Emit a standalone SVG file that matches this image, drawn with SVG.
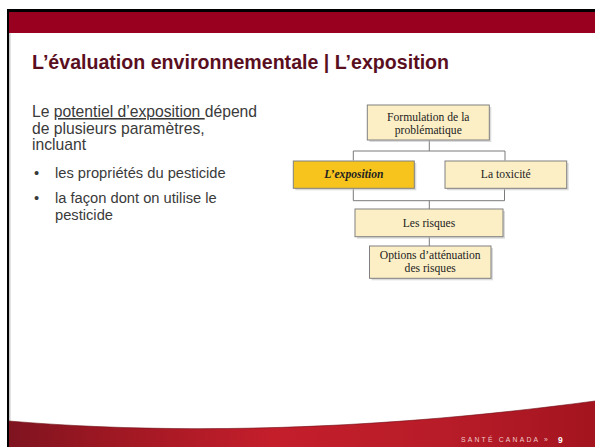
<svg xmlns="http://www.w3.org/2000/svg" width="595" height="447" viewBox="0 0 595 447">
<defs>
<style>
.body{font-family:"Liberation Sans",Arial,sans-serif;fill:#3a3a3a}
.box{fill:#fcefc6;stroke:#808080;stroke-width:1}
.gold{fill:#f6c41c;stroke:#808080;stroke-width:1}
.shadow{fill:#bdbdbd;opacity:0.55}
.lbl{font-family:"Liberation Serif","Times New Roman",serif;font-size:11.6px;fill:#222;text-anchor:middle}
.conn{fill:none;stroke:#7a7a7a;stroke-width:1}
</style>
<linearGradient id="footer" x1="0" y1="0" x2="1" y2="0">
<stop offset="0" stop-color="#7e1420"/>
<stop offset="0.15" stop-color="#9a1722"/>
<stop offset="0.45" stop-color="#c41e2b"/>
<stop offset="0.75" stop-color="#b71c28"/>
<stop offset="1" stop-color="#a3141f"/>
</linearGradient>
</defs>
<rect x="0" y="0" width="595" height="447" fill="#ffffff"/>
<!-- frame -->
<rect x="7" y="9" width="588" height="3" fill="#000"/>
<rect x="9" y="12" width="586" height="21" fill="#990020"/>
<rect x="7" y="9" width="2" height="438" fill="#000"/>
<rect x="9" y="33" width="1.5" height="390" fill="#c8c8c8"/>
<!-- footer -->
<path d="M9,421 C150,433 350,434 595,401 L595,447 L9,447 Z" fill="url(#footer)"/>
<path d="M9,421 C150,433 350,434 595,401" fill="none" stroke="#6e1018" stroke-width="1" opacity="0.6"/>
<text x="461" y="442" font-family="'Liberation Sans',Arial,sans-serif" font-size="6.8" letter-spacing="2.2" fill="#f2c9cb">SANTÉ CANADA »</text>
<text x="558" y="442.5" font-family="'Liberation Sans',Arial,sans-serif" font-size="8.5" font-weight="bold" fill="#ffffff">9</text>
<!-- title -->
<text x="32" y="69" font-family="'Liberation Sans',Arial,sans-serif" font-size="19.6" font-weight="bold" fill="#5a0f1f">L’évaluation environnementale | L’exposition</text>
<!-- body text -->
<g id="bodytext" class="body">
<text x="32" y="117" font-size="15.7">Le <tspan text-decoration="underline">potentiel d’exposition </tspan>dépend</text>
<text x="32" y="133.5" font-size="15.7">de plusieurs paramètres,</text>
<text x="32" y="150" font-size="15.7">incluant</text>
<text x="34" y="178" font-size="14.7">•</text>
<text x="55" y="178" font-size="14.7">les propriétés du pesticide</text>
<text x="34" y="203" font-size="14.7">•</text>
<text x="55" y="203" font-size="14.7">la façon dont on utilise le</text>
<text x="55" y="219.5" font-size="14.7">pesticide</text>
</g>
<!-- connectors -->
<g id="connectors" class="conn">
<path d="M429.3,140 V151 M353.3,160.5 V151 H505 V160.5"/>
<path d="M353.3,188.3 V200.7 H504.5 V188.3 M429.3,200.7 V209"/>
<path d="M429.3,236.7 V246"/>
</g>
<!-- nodes -->
<g id="node-formulation">
<rect class="shadow" x="369.3" y="107" width="122" height="35"/>
<rect class="box" x="367.3" y="105" width="122" height="35"/>
<text class="lbl" x="428.3" y="120.5">Formulation de la</text>
<text class="lbl" x="428.3" y="133.5">problématique</text>
</g>
<g id="node-exposition">
<rect class="shadow" x="295.3" y="163" width="121" height="27.3"/>
<rect class="gold" x="293.3" y="161" width="121" height="27.3"/>
<text class="lbl" x="353.8" y="178.3" font-weight="bold" font-style="italic">L’exposition</text>
</g>
<g id="node-toxicite">
<rect class="shadow" x="447" y="163" width="121.7" height="27.3"/>
<rect class="box" x="445" y="161" width="121.7" height="27.3"/>
<text class="lbl" x="505.8" y="178.3">La toxicité</text>
</g>
<g id="node-risques">
<rect class="shadow" x="357" y="211" width="148" height="27.7"/>
<rect class="box" x="355" y="209" width="148" height="27.7"/>
<text class="lbl" x="429" y="227">Les risques</text>
</g>
<g id="node-options">
<rect class="shadow" x="371.5" y="248" width="121.5" height="32.3"/>
<rect class="box" x="369.5" y="246" width="121.5" height="32.3"/>
<text class="lbl" x="430.2" y="258.7">Options d’atténuation</text>
<text class="lbl" x="430.2" y="271.5">des risques</text>
</g>
</svg>
